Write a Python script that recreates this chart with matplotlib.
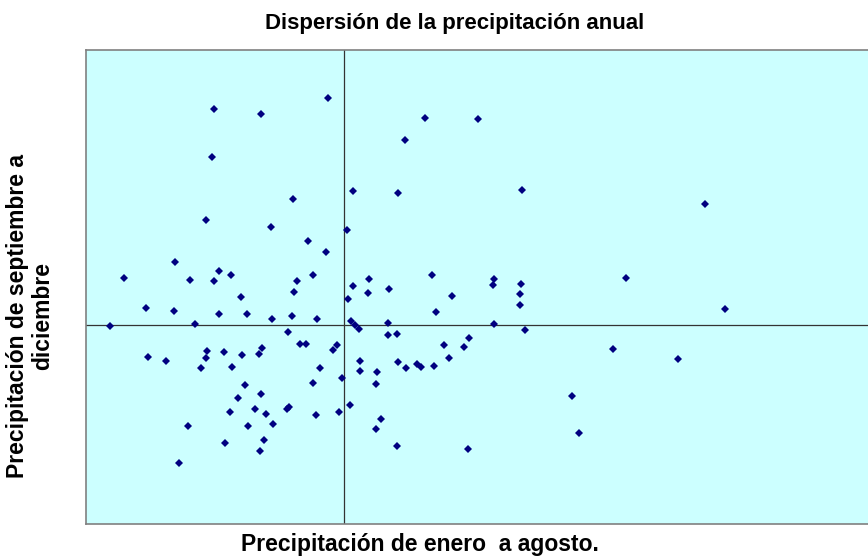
import matplotlib
matplotlib.use("Agg")
import matplotlib.pyplot as plt

plt.rcParams['font.family'] = ['Liberation Sans', 'DejaVu Sans']

title = "Dispersión de la precipitación anual"
xlabel = "Precipitación de enero  a agosto."
ylabel = "Precipitación de septiembre a\ndiciembre"

# Anomalies (Jan-Aug precipitation, Sep-Dec precipitation), arbitrary units
x_vals = [
    -130, -83, -16, -132, -138, 81, 134, 61, 9, 54, 178, 361, -51, -73, 3, -36, -18,
    -220, -169, -154, -125, -130, -113, -103, -198, -170, -125, -97, -234, -149,
    -31, -47, -50, 9, 25, 24, 45, 88, 4, 92, -72, -52, -27, 7, 11, 15, 44,
    150, 149, 108, 177, 176, 176, 150, 282, 381,
    -56, 44, 53, 181, 125, 100, 120, 105, 90, 269, 334, 228, 235, 124,
    -196, -178, -137, -138, -143, -120, -102, -85, -82, -112, -99, -83, -106, -114, -89, -78, -156, -96, -80, -119, -84, -165,
    -44, -38, -11, -7, -24, -31, -2, 16, 16, 33, 32, 54, 62, 73, 77,
    -55, -57, -71, -28, -5, 6, 37, 32, 53,
]
y_vals = [
    216, 211, 227, 168, 105, 207, 206, 185, 134, 132, 135, 121, 126, 98, 95, 84, 73,
    47, 63, 45, 54, 44, 50, 28, 17, 14, 11, 11, -1, 1,
    50, 44, 33, 39, 46, 32, 36, 50, 26, 13, 6, 9, 6, 4, 0, -4, 2,
    46, 40, 29, 41, 31, 20, 1, 47, 16,
    -7, -10, -9, -5, -13, -20, -22, -33, -41, -24, -34, -71, -108, -124,
    -32, -36, -26, -33, -43, -27, -30, -29, -23, -42, -60, -69, -73, -87, -84, -89, -101, -101, -115, -118, -126, -138,
    -19, -19, -25, -20, -43, -58, -53, -36, -46, -47, -59, -37, -43, -39, -42,
    -82, -84, -99, -90, -87, -80, -94, -104, -121,
]

fig = plt.figure(figsize=(8.68, 5.57), dpi=100)
W, H = 868, 557
ax = fig.add_axes([86 / W, (H - 524) / H, (880 - 86) / W, (524 - 50) / H])
ax.set_facecolor('#CCFFFF')
ax.set_xlim(-258, 536)
ax.set_ylim(-199, 275)
ax.axhline(0, color='#333333', lw=0.9, zorder=1)
ax.axvline(0, color='#333333', lw=0.9, zorder=1)
ax.plot(x_vals, y_vals, linestyle='none', marker='D', ms=3.6, mew=0,
        color='#000080', zorder=3)
ax.set_xticks([])
ax.set_yticks([])
for s in ax.spines.values():
    s.set_color('#808080')
    s.set_linewidth(1.2)

fig.text(455 / W, 1 - 23 / H, title, ha='center', va='center',
         fontsize=16, fontweight='bold')
fig.text(420 / W, 1 - 545 / H, xlabel, ha='center', va='center',
         fontsize=16.5, fontweight='bold')
fig.text(30 / W, 1 - 316 / H, ylabel, ha='center', va='center', rotation=90,
         fontsize=16.5, fontweight='bold', linespacing=1.15, multialignment='center')

fig.savefig('out.png', dpi=100)
